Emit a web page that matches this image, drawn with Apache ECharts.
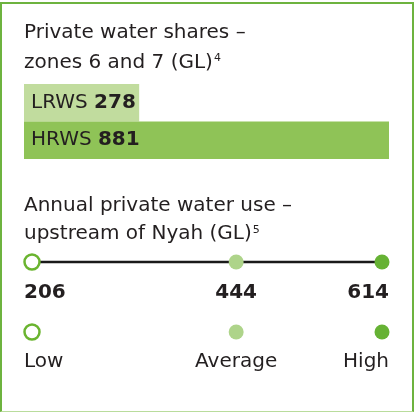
<!DOCTYPE html>
<html>
<head>
<meta charset="utf-8">
<script src="https://cdn.jsdelivr.net/npm/echarts@6/dist/echarts.min.js"></script>
<style>
html,body{margin:0;padding:0;background:#fff;}
#wrap{position:absolute;left:0;top:2px;width:414px;height:410px;box-sizing:border-box;border-left:2px solid #6db33f;border-top:2px solid #6db33f;border-right:2px solid #6db33f;border-bottom:1px solid #b9dc9c;}
#chart{position:absolute;left:0;top:0;width:414px;height:412px;}
</style>
</head>
<body>
<div id="wrap"></div>
<div id="chart"></div>
<script>
const shareCategories = ['LRWS', 'HRWS'];
const shareValues = [278, 881];
const useLabels = ['Low', 'Average', 'High'];
const useValues = [206, 444, 614];

const FONT = 'DejaVu Sans';
const TXT = '#231f20';
const shareColors = ['#c1dc9e', '#8fc357'];
const dotFill = ['#ffffff', '#aed48a', '#66b234'];
const dotBorder = ['#6ab42f', '#aed48a', '#66b234'];
const aligns = ['left', 'center', 'right'];
const offs = [-8, 0, 7];

const chart = echarts.init(document.getElementById('chart'));

const lineY = 10, numY = 41, dotY = 80, labY = 110;

const supRich = () => ({ sup: { fontSize: 11, fontFamily: FONT, color: TXT, verticalAlign: 'top', lineHeight: 12, padding: [5, 0, 0, 1] } });

chart.setOption({
  animation: false,
  textStyle: { fontFamily: FONT },
  title: [
    {
      text: 'Private water shares –\nzones 6 and 7 (GL){sup|4}',
      left: 24, top: 18, padding: 0,
      textStyle: {
        fontFamily: FONT, fontSize: 20, fontWeight: 'normal', color: TXT, lineHeight: 30,
        rich: supRich()
      }
    },
    {
      text: 'Annual private water use –\nupstream of Nyah (GL){sup|5}',
      left: 24, top: 192, padding: 0,
      textStyle: {
        fontFamily: FONT, fontSize: 20, fontWeight: 'normal', color: TXT, lineHeight: 28,
        rich: supRich()
      }
    }
  ],
  grid: [
    { left: 24, width: 365, top: 84, height: 75 },
    { left: 32, width: 350, top: 252, height: 120 }
  ],
  xAxis: [
    { gridIndex: 0, type: 'value', min: 0, max: 881, show: false },
    { gridIndex: 1, type: 'value', min: 206, max: 614, show: false }
  ],
  yAxis: [
    { gridIndex: 0, type: 'category', data: shareCategories, inverse: true, show: false },
    { gridIndex: 1, type: 'value', min: 0, max: 120, inverse: true, show: false }
  ],
  series: [
    {
      type: 'bar', xAxisIndex: 0, yAxisIndex: 0, barWidth: '100%',
      data: shareValues.map((v, i) => ({ value: v, itemStyle: { color: shareColors[i] } })),
      label: {
        show: true, position: 'insideLeft', offset: [2, 0],
        formatter: p => p.name + ' {b|' + p.value + '}',
        fontFamily: FONT, fontSize: 20, color: TXT,
        rich: { b: { fontFamily: FONT, fontSize: 20, fontWeight: 'bold', color: TXT } }
      },
      silent: true
    },
    {
      type: 'line', xAxisIndex: 1, yAxisIndex: 1,
      data: useValues.map((v, i) => ({
        value: [v, lineY],
        itemStyle: { color: dotFill[i], borderColor: dotBorder[i], borderWidth: i === 0 ? 2.5 : 0, opacity: 1 }
      })),
      symbol: 'circle', symbolSize: 15, showAllSymbol: true,
      lineStyle: { color: '#1a1a1a', width: 2.5 },
      z: 3, silent: true
    },
    {
      type: 'scatter', xAxisIndex: 1, yAxisIndex: 1,
      itemStyle: { opacity: 1 },
      data: useValues.map((v, i) => ({
        value: [v, dotY],
        itemStyle: { color: dotFill[i], borderColor: dotBorder[i], borderWidth: i === 0 ? 2.5 : 0, opacity: 1 }
      })),
      symbol: 'circle', symbolSize: 15, silent: true
    },
    {
      type: 'scatter', xAxisIndex: 1, yAxisIndex: 1, symbolSize: 0, silent: true,
      itemStyle: { opacity: 1 },
      data: useValues.map((v, i) => ({
        value: [v, numY],
        label: { show: true, position: 'inside', align: aligns[i], offset: [offs[i], 0],
          formatter: String(v), fontFamily: FONT, fontSize: 20, fontWeight: 'bold', color: TXT, opacity: 1 }
      }))
    },
    {
      type: 'scatter', xAxisIndex: 1, yAxisIndex: 1, symbolSize: 0, silent: true,
      itemStyle: { opacity: 1 },
      data: useValues.map((v, i) => ({
        value: [v, labY],
        label: { show: true, position: 'inside', align: aligns[i], offset: [offs[i], 0],
          formatter: useLabels[i], fontFamily: FONT, fontSize: 20, color: TXT, opacity: 1 }
      }))
    }
  ]
});
</script>
</body>
</html>
